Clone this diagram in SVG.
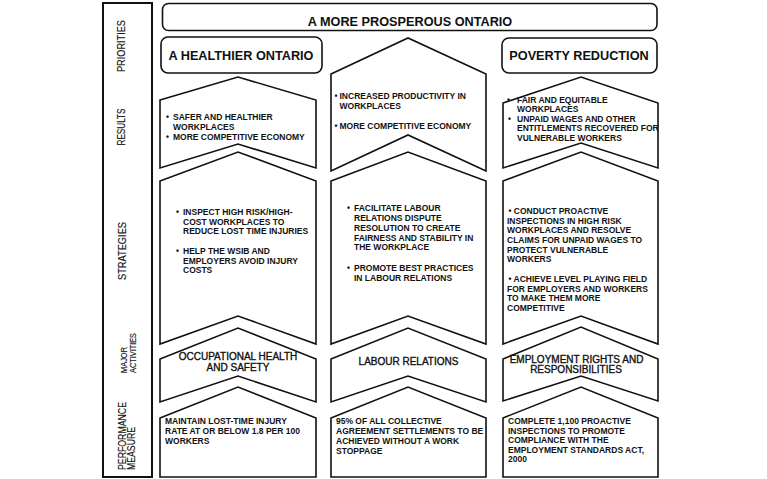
<svg xmlns="http://www.w3.org/2000/svg" width="767" height="479" viewBox="0 0 767 479">
<style>
.shp{fill:#fff;stroke:#111;stroke-width:1.6;stroke-linejoin:miter}
.box{fill:#fff;stroke:#111;stroke-width:1.6}
.lbl{font-family:"Liberation Sans",Arial,sans-serif;font-size:10.5px;fill:#111;stroke:#111;stroke-width:0.15}
.t{font-family:"Liberation Sans",Arial,sans-serif;font-size:8.5px;font-weight:bold;fill:#111}
.hd{font-family:"Liberation Sans",Arial,sans-serif;font-size:12.7px;font-weight:bold;fill:#111}
.act{font-family:"Liberation Sans",Arial,sans-serif;font-size:10px;fill:#111;stroke:#111;stroke-width:0.35;text-anchor:middle}
</style>
<rect width="767" height="479" fill="#fff"/>

<g id="labels">
<rect x="103" y="3" width="49" height="474" fill="#fff" stroke="#111" stroke-width="2"/>
<text class="lbl" text-anchor="middle" textLength="52" lengthAdjust="spacingAndGlyphs" transform="translate(125,46) rotate(-90)">PRIORITIES</text>
<text class="lbl" text-anchor="middle" textLength="37" lengthAdjust="spacingAndGlyphs" transform="translate(125,127) rotate(-90)">RESULTS</text>
<text class="lbl" text-anchor="middle" textLength="58" lengthAdjust="spacingAndGlyphs" transform="translate(126,251) rotate(-90)">STRATEGIES</text>
<text class="lbl" style="font-size:9.5px" textLength="26" lengthAdjust="spacingAndGlyphs" transform="translate(127,373) rotate(-90)">MAJOR</text>
<text class="lbl" style="font-size:9.5px" textLength="40" lengthAdjust="spacingAndGlyphs" transform="translate(135.5,373) rotate(-90)">ACTIVITIES</text>
<text class="lbl" textLength="68" lengthAdjust="spacingAndGlyphs" transform="translate(126,470) rotate(-90)">PERFORMANCE</text>
<text class="lbl" textLength="43" lengthAdjust="spacingAndGlyphs" transform="translate(135,470) rotate(-90)">MEASURE</text>
</g>

<g id="prosperous">
<rect class="box" x="162.5" y="3.5" width="494.5" height="27" rx="6"/>
<text class="hd" x="410" y="26" text-anchor="middle">A MORE PROSPEROUS ONTARIO</text>
</g>

<g id="healthier">
<rect class="box" x="161" y="37" width="161" height="36" rx="7"/>
<text class="hd" x="241" y="59.5" text-anchor="middle">A HEALTHIER ONTARIO</text>
</g>

<g id="poverty">
<rect class="box" x="502" y="38" width="155" height="35" rx="7"/>
<text class="hd" x="579" y="59.5" text-anchor="middle">POVERTY REDUCTION</text>
</g>

<!-- Left column -->
<g id="results-left">
<path class="shp" d="M160,100 L238,77 L316,100 L316,168 L238,144 L160,168 Z"/>
<text class="t" x="166" y="119.5">•</text><text class="t" x="173" y="119.5">SAFER AND HEALTHIER</text>
<text class="t" x="173" y="129.5">WORKPLACES</text>
<text class="t" x="166" y="139.5">•</text><text class="t" x="173" y="139.5">MORE COMPETITIVE ECONOMY</text>
</g>
<g id="strategies-left">
<path class="shp" d="M160,181 L238,152 L316,181 L316,344 L238,316 L160,344 Z"/>
<text class="t" x="176" y="214.5">•</text><text class="t" x="183" y="214.5">INSPECT HIGH RISK/HIGH-</text>
<text class="t" x="183" y="224.5">COST WORKPLACES TO</text>
<text class="t" x="183" y="234">REDUCE LOST TIME INJURIES</text>
<text class="t" x="176" y="253.5">•</text><text class="t" x="183" y="253.5">HELP THE WSIB AND</text>
<text class="t" x="183" y="263.5">EMPLOYERS AVOID INJURY</text>
<text class="t" x="183" y="273">COSTS</text>
</g>
<g id="activity-left">
<path class="shp" d="M160,359 L238,328 L316,359 L316,402 L238,376 L160,402 Z"/>
<text class="act" x="238" y="360">OCCUPATIONAL HEALTH</text>
<text class="act" x="238" y="370.5">AND SAFETY</text>
</g>
<g id="measure-left">
<path class="shp" d="M160,418 L238,387 L316,418 L316,477 L160,477 Z"/>
<text class="t" x="165" y="423.5">MAINTAIN LOST-TIME INJURY</text>
<text class="t" x="165" y="433.5">RATE AT OR BELOW 1.8 PER 100</text>
<text class="t" x="165" y="443.5">WORKERS</text>
</g>

<!-- Middle column -->
<g id="results-middle">
<path class="shp" d="M331,74 L408,38 L486,74 L486,171 L408,135 L331,171 Z"/>
<text class="t" x="334.5" y="99">•</text><text class="t" x="339.5" y="99">INCREASED PRODUCTIVITY IN</text>
<text class="t" x="339.5" y="109">WORKPLACES</text>
<text class="t" x="334.5" y="129">•</text><text class="t" x="339.5" y="129">MORE COMPETITIVE ECONOMY</text>
</g>
<g id="strategies-middle">
<path class="shp" d="M331,181 L408,152 L486,181 L486,344 L408,316 L331,344 Z"/>
<text class="t" x="347" y="211">•</text><text class="t" x="354" y="211">FACILITATE LABOUR</text>
<text class="t" x="354" y="221">RELATIONS DISPUTE</text>
<text class="t" x="354" y="230.5">RESOLUTION TO CREATE</text>
<text class="t" x="354" y="240.5">FAIRNESS AND STABILITY IN</text>
<text class="t" x="354" y="250">THE WORKPLACE</text>
<text class="t" x="347" y="270.5">•</text><text class="t" x="354" y="270.5">PROMOTE BEST PRACTICES</text>
<text class="t" x="354" y="280.5">IN LABOUR RELATIONS</text>
</g>
<g id="activity-middle">
<path class="shp" d="M331,359 L408,328 L486,359 L486,402 L408,376 L331,402 Z"/>
<text class="act" x="408.5" y="364.5">LABOUR RELATIONS</text>
</g>
<g id="measure-middle">
<path class="shp" d="M331,418 L408,387 L486,418 L486,477 L331,477 Z"/>
<text class="t" x="336" y="423.5">95% OF ALL COLLECTIVE</text>
<text class="t" x="336" y="433.5">AGREEMENT SETTLEMENTS TO BE</text>
<text class="t" x="336" y="443.5">ACHIEVED WITHOUT A WORK</text>
<text class="t" x="336" y="453.5">STOPPAGE</text>
</g>

<!-- Right column -->
<g id="results-right">
<path class="shp" d="M503,103 L581,77 L658,103 L658,168 L581,143 L503,168 Z"/>
<text class="t" x="507" y="103">•</text><text class="t" x="517" y="103">FAIR AND EQUITABLE</text>
<text class="t" x="517" y="112">WORKPLACES</text>
<text class="t" x="508" y="121.5">•</text><text class="t" x="517" y="121.5">UNPAID WAGES AND OTHER</text>
<text class="t" x="517" y="131">ENTITLEMENTS RECOVERED FOR</text>
<text class="t" x="517" y="140.5">VULNERABLE WORKERS</text>
</g>
<g id="strategies-right">
<path class="shp" d="M503,181 L581,152 L658,181 L658,344 L581,316 L503,344 Z"/>
<text class="t" x="508.5" y="214">• CONDUCT PROACTIVE</text>
<text class="t" x="507" y="223.5">INSPECTIONS IN HIGH RISK</text>
<text class="t" x="507" y="233">WORKPLACES AND RESOLVE</text>
<text class="t" x="507" y="243">CLAIMS FOR UNPAID WAGES TO</text>
<text class="t" x="507" y="252.5">PROTECT VULNERABLE</text>
<text class="t" x="507" y="262">WORKERS</text>
<text class="t" x="508.5" y="282">• ACHIEVE LEVEL PLAYING FIELD</text>
<text class="t" x="507" y="291.5">FOR EMPLOYERS AND WORKERS</text>
<text class="t" x="507" y="301">TO MAKE THEM MORE</text>
<text class="t" x="507" y="311">COMPETITIVE</text>
</g>
<g id="activity-right">
<path class="shp" d="M503,359 L581,327 L658,359 L658,401 L581,376 L503,401 Z"/>
<text class="act" x="576.5" y="362.5">EMPLOYMENT RIGHTS AND</text>
<text class="act" x="576" y="373">RESPONSIBILITIES</text>
</g>
<g id="measure-right">
<path class="shp" d="M503,418 L581,387 L658,418 L658,477 L503,477 Z"/>
<text class="t" x="508" y="424">COMPLETE 1,100 PROACTIVE</text>
<text class="t" x="508" y="433.5">INSPECTIONS TO PROMOTE</text>
<text class="t" x="508" y="443">COMPLIANCE WITH THE</text>
<text class="t" x="508" y="452.5">EMPLOYMENT STANDARDS ACT,</text>
<text class="t" x="508" y="462">2000</text>
</g>

<g id="connectors"/>
</svg>
